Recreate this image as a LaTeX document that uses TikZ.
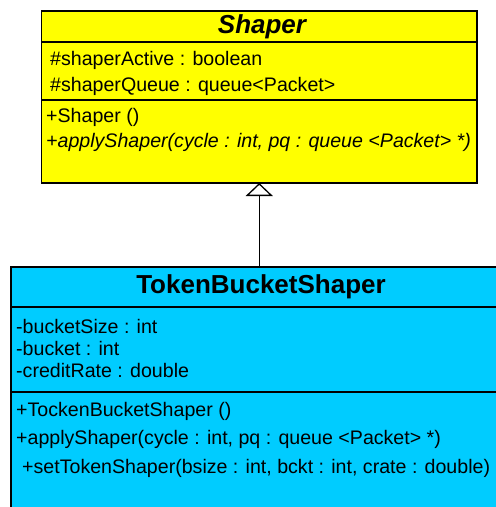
\documentclass[tikz,border=0pt]{standalone}
\usepackage{fontspec}
\setmainfont{Liberation Sans}
\usetikzlibrary{arrows.meta}
\definecolor{shaperyellow}{HTML}{FFFF00}
\definecolor{bucketcyan}{HTML}{00CCFF}
\begin{document}
\begin{tikzpicture}[x=1pt, y=-1pt,
    classbox/.style={draw, line width=1.3pt, inner sep=0pt, outer sep=0pt},
    member/.style={anchor=base west, inner sep=0pt, font=\fontsize{19.6}{22}\selectfont},
    classname/.style={inner sep=0pt, font=\fontsize{26}{30}\selectfont\bfseries},
    sep/.style={line width=1.3pt}]
    \useasboundingbox (0,0) rectangle (496,507);
    \clip (0,0) rectangle (496,507);
    % base class
    \node[classbox, fill=shaperyellow, minimum width=435.5pt, minimum height=172pt] (shaper) at (259.25,97) {};
    \draw[sep] (shaper.west |- 0,42) -- (shaper.east |- 0,42);
    \draw[sep] (shaper.west |- 0,100) -- (shaper.east |- 0,100);
    \node[classname, font=\fontsize{26}{30}\selectfont\bfseries\itshape] (shapername) at (262,27) {Shaper};
    \node[member] (active) at (50,65) {\#shaperActive : boolean};
    \node[member] (queue) at (50,91) {\#shaperQueue : queue<Packet>};
    \node[member] (ctor) at (46,122) {+Shaper ()};
    \node[member, font=\fontsize{19.6}{22}\selectfont\itshape] (apply) at (46,147) {+applyShaper(cycle : int, pq : queue <Packet> *)};
    % derived class
    \node[classbox, fill=bucketcyan, minimum width=500pt, minimum height=260pt] (bucket) at (261,397) {};
    \draw[sep] (bucket.west |- 0,307) -- (bucket.east |- 0,307);
    \draw[sep] (bucket.west |- 0,392) -- (bucket.east |- 0,392);
    \node[classname] (bucketname) at (261,287) {TokenBucketShaper};
    \node[member] (size) at (16,333) {-bucketSize : int};
    \node[member] (bkt) at (16,355) {-bucket : int};
    \node[member] (rate) at (16,377) {-creditRate : double};
    \node[member] (tctor) at (16,416) {+TockenBucketShaper ()};
    \node[member] (tapply) at (16,444) {+applyShaper(cycle : int, pq : queue <Packet> *)};
    \node[member] (tset) at (22,473) {+setTokenShaper(bsize : int, bckt : int, crate : double)};
    % generalization
    \draw[line width=1.3pt, -{Triangle[open, length=13pt, width=27pt, line width=1.3pt]}] (shaper.south |- bucket.north) -- (shaper.south);
\end{tikzpicture}
\end{document}
